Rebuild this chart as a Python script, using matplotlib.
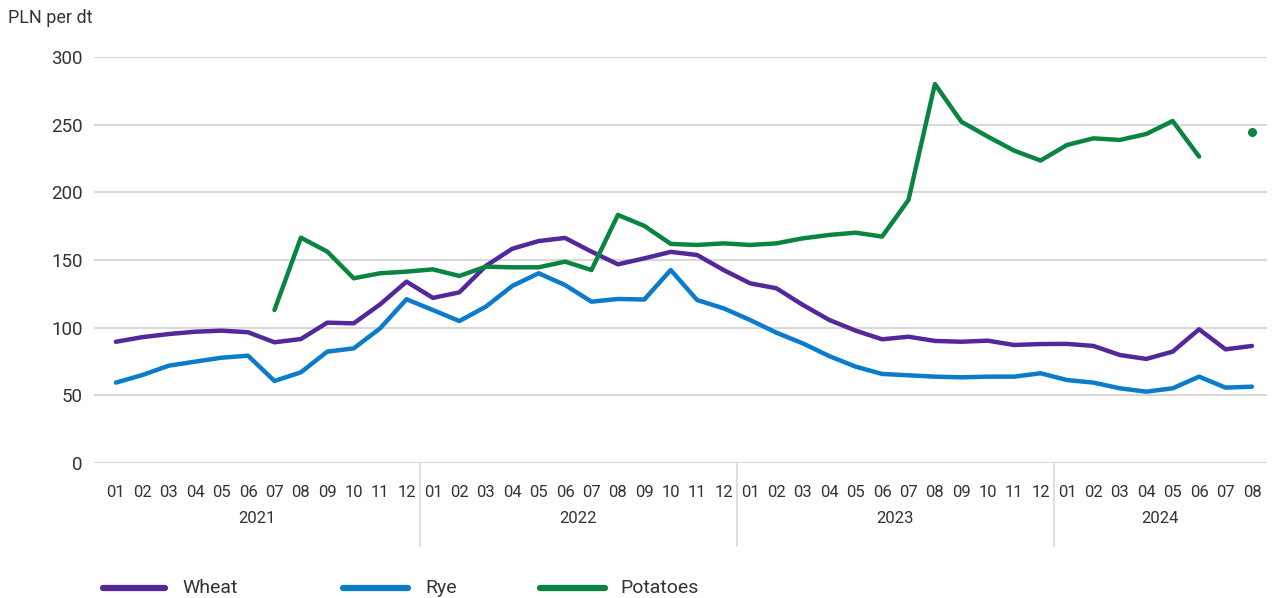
import numpy as np
import matplotlib
matplotlib.use("Agg")
import matplotlib.pyplot as plt
from matplotlib.lines import Line2D
import matplotlib.transforms as mtransforms

plt.rcParams['font.family'] = ['Liberation Sans Narrow', 'Roboto', 'DejaVu Sans']

years = ['2021', '2022', '2023', '2024']
months = ['01', '02', '03', '04', '05', '06', '07', '08', '09', '10', '11', '12']
n_points = 44

wheat = [89.6, 93.0, 95.3, 97.0, 97.8, 96.6, 89.2, 91.6, 103.7, 103.2, 117.2, 134.0,
         122.0, 126.1, 145.6, 158.3, 164.0, 166.3, 156.2, 146.8, 151.2, 156.0, 153.7, 142.6,
         132.8, 129.1, 116.8, 105.7, 97.8, 91.4, 93.3, 90.2, 89.6, 90.4, 87.2, 87.9,
         88.0, 86.5, 79.8, 76.9, 82.3, 98.8, 84.0, 86.5]
rye = [59.4, 65.0, 71.9, 74.9, 77.8, 79.3, 60.6, 67.0, 82.3, 84.7, 99.5, 121.0,
       113.0, 104.9, 115.5, 130.8, 140.2, 131.5, 119.2, 121.2, 120.8, 142.6, 120.4, 114.3,
       105.7, 96.3, 88.4, 79.0, 71.2, 65.8, 64.8, 63.8, 63.3, 63.8, 63.8, 66.3,
       61.3, 59.4, 55.2, 52.7, 55.2, 63.8, 55.7, 56.4]
potatoes = [np.nan, np.nan, np.nan, np.nan, np.nan, np.nan, 113.0, 166.5, 156.2, 136.5, 140.2, 141.4,
            143.1, 138.2, 145.1, 144.6, 144.6, 148.8, 142.6, 183.3, 175.2, 161.9, 161.1, 162.3,
            161.1, 162.3, 166.0, 168.5, 170.2, 167.3, 194.4, 280.0, 252.2, 241.2, 230.8, 223.5,
            235.0, 239.9, 238.7, 243.1, 252.7, 226.4, np.nan, 244.8]

series = [('Wheat', wheat, '#52289b'), ('Rye', rye, '#0b7bcc'), ('Potatoes', potatoes, '#0a8441')]

fig = plt.figure(figsize=(12.72, 5.98), dpi=100)
ax = fig.add_axes([94/1272, 1 - 463/598, (1267 - 94)/1272, (463 - 57)/598])

x = np.arange(n_points)
for name, vals, col in series:
    v = np.array(vals, dtype=float)
    ax.plot(x, v, color=col, lw=3.2, solid_capstyle='round', solid_joinstyle='round',
            clip_on=False, zorder=3)
    # isolated points (no neighbours) drawn as dots
    ok = ~np.isnan(v)
    prev_ok = np.r_[False, ok[:-1]]
    next_ok = np.r_[ok[1:], False]
    iso = ok & ~prev_ok & ~next_ok
    ax.plot(x[iso], v[iso], 'o', color=col, ms=5.5, clip_on=False, zorder=3)

ax.set_xlim(-0.83, 43.57)
ax.set_ylim(0, 300)
ax.set_yticks(range(0, 301, 50))
ax.yaxis.grid(True, color='#d9d9d9', lw=1.5)
ax.set_axisbelow(True)
for s in ax.spines.values():
    s.set_visible(False)

labels = [months[i % 12] for i in range(n_points)]
ax.set_xticks(x)
ax.set_xticklabels(labels)
ax.tick_params(axis='x', length=0, pad=16, labelsize=12, labelcolor='#333333')
ax.tick_params(axis='y', length=0, pad=8, labelsize=13.5, labelcolor='#333333')

# year groups
trans = mtransforms.blended_transform_factory(ax.transData, ax.transAxes)
bounds = [-0.83, 11.5, 23.5, 35.5, 43.57]
for i, yr in enumerate(years):
    c = (bounds[i] + bounds[i + 1]) / 2
    ax.annotate(yr, xy=(c, 0), xycoords=trans, xytext=(0, -40), textcoords='offset points',
                ha='center', va='center', fontsize=12, color='#333333')
for b in bounds[1:-1]:
    ax.add_line(Line2D([b, b], [0, -83 / 406], transform=trans, color='#d9d9d9', lw=1.2,
                       clip_on=False))

fig.text(8/1272, 1 - 18/598, 'PLN per dt', fontsize=13, color='#333333', va='center', ha='left')

# legend
leg_items = [(103, 165, 182), (343, 408, 425), (540, 605, 620)]
for (x0, x1, xt), (name, vals, col) in zip(leg_items, series):
    yy = 1 - 588/598
    fig.add_artist(Line2D([x0/1272, x1/1272], [yy, yy], color=col, lw=4.5,
                          solid_capstyle='round'))
    fig.text(xt/1272, yy, name, fontsize=14, color='#333333', va='center', ha='left')

fig.savefig('out.png', dpi=100)
